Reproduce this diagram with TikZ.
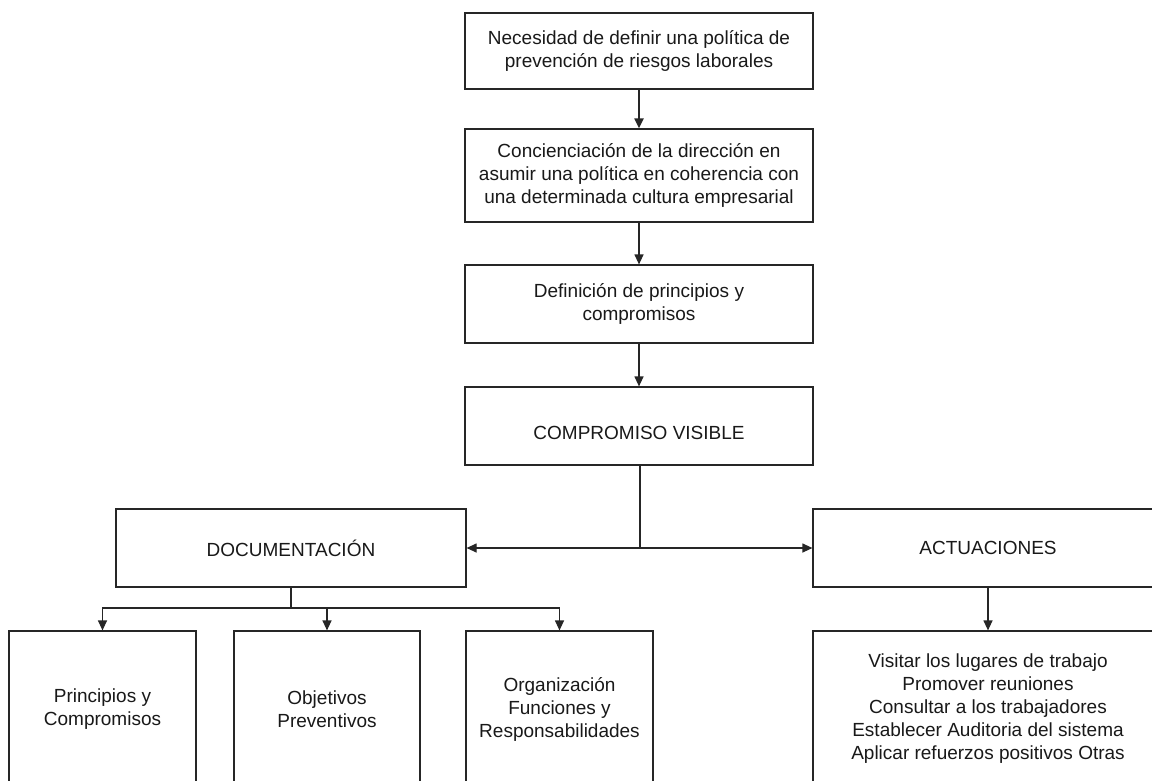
\documentclass[tikz,border=0pt]{standalone}
\usepackage{fontspec}
\setmainfont{Liberation Sans}
\usetikzlibrary{arrows.meta}
\begin{document}
\begin{tikzpicture}[x=1pt,y=-1pt,
  box/.style={draw=black!85,line width=1.2pt,align=center,inner sep=0pt,
    text=black!90,font=\fontsize{19}{23}\selectfont},
  conn/.style={draw=black!85,line width=1.2pt},
  arr/.style={conn,-{Triangle[length=10pt,width=9pt]}}]
\useasboundingbox (0,0) rectangle (1152,780);
\clip (0,0) rectangle (1152,780);
\fill[white] (0,0) rectangle (1152,780);
\node[box,minimum width=348pt,minimum height=76pt] (b1) at (639,51)
  {Necesidad de definir una política de\\prevención de riesgos laborales};
\node[box,minimum width=348pt,minimum height=93pt] (b2) at (639,175.5)
  {Concienciación de la dirección en\\asumir una política en coherencia con\\una determinada cultura empresarial};
\node[box,minimum width=348pt,minimum height=78pt] (b3) at (639,304)
  {Definición de principios y\\compromisos};
\node[box,minimum width=348pt,minimum height=78pt] (b4) at (639,426)
  {\raisebox{-13.8pt}[0pt][0pt]{COMPROMISO VISIBLE}};
\node[box,minimum width=350pt,minimum height=78pt] (doc) at (291,548)
  {DOCUMENTACIÓN};
\node[box,minimum width=350pt,minimum height=78pt] (act) at (988,548)
  {ACTUACIONES};
\node[box,minimum width=187pt,minimum height=156pt] (p) at (102.5,709)
  {\raisebox{-3pt}[0pt][0pt]{}Principios y\\Compromisos};
\node[box,minimum width=186pt,minimum height=156pt] (o) at (327,709)
  {Objetivos\\Preventivos};
\node[box,minimum width=187pt,minimum height=156pt] (org) at (559.5,709)
  {Organización\\Funciones y\\Responsabilidades};
\node[box,minimum width=350pt,minimum height=156pt] (acts) at (988,709)
  {Visitar los lugares de trabajo\\Promover reuniones\\Consultar a los trabajadores\\Establecer Auditoria del sistema\\Aplicar refuerzos positivos Otras};
\coordinate (j) at (640,548);
\coordinate (k) at (291,608);
\draw[arr,line width=2pt] (b1.south) -- (b2.north);
\draw[arr] (b2.south) -- (b3.north);
\draw[arr] (b3.south) -- (b4.north);
\draw[conn] (b4.south -| j) -- (j);
\draw[arr] (j) -- (doc.east);
\draw[arr] (j) -- (act.west);
\draw[conn] (doc.south -| k) -- (k);
\draw[arr] (k) -| (p.north);
\draw[arr] (k) -| (o.north);
\draw[arr] (k) -| (org.north);
\draw[arr] (act.south) -- (acts.north);
\end{tikzpicture}
\end{document}
